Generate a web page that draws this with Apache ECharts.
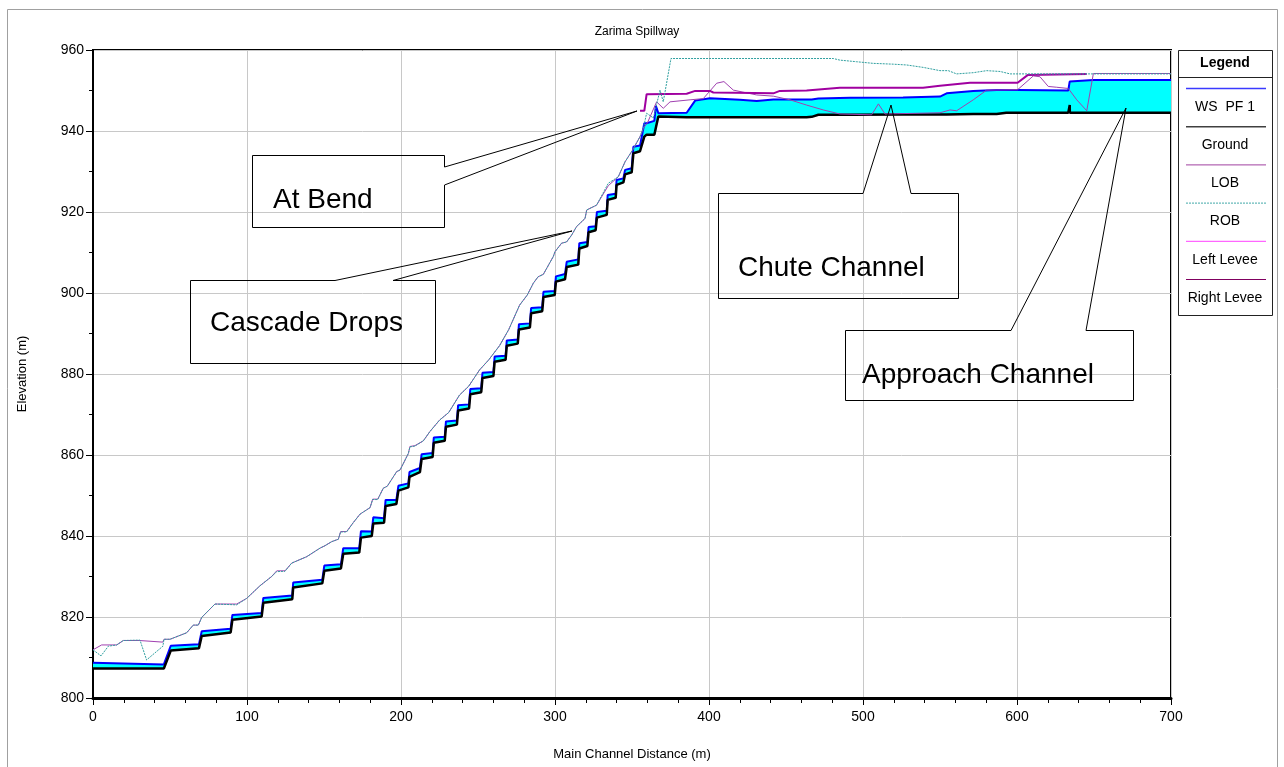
<!DOCTYPE html>
<html>
<head>
<meta charset="utf-8">
<title>Zarima Spillway</title>
<script src="https://cdn.jsdelivr.net/npm/echarts@6/dist/echarts.min.js"></script>
<style>
html, body { margin: 0; padding: 0; background: #fff; }
#chart { width: 1284px; height: 767px; }
</style>
</head>
<body>
<div id="chart"></div>
<script>
// main channel stations (m) with ground and water surface elevations (m)
var stations = [0, 46, 50.5, 68.8, 70.6, 89.4, 90.5, 109.5, 110.6, 129.4, 130, 148.9, 150.2, 161, 162.5, 172.9, 174, 181, 182, 189,
    190, 197, 198.3, 204.8, 205.5, 212.3, 213.4, 220.5, 221.3, 228.4, 229.2, 236.3, 237.1, 244.2, 245, 252.1, 252.9, 260, 260.8, 267.9,
    268.7, 275.8, 276.6, 283.7, 284.5, 291.7, 292.5, 299.8, 300.6, 306.5, 307.6, 315.1, 315.8, 321, 321.8, 326.4, 327.2, 333.6, 334.2, 339.4,
    340, 344.4, 345.5, 349.8, 350.9, 355.2, 358, 359.5, 364.5, 365.5, 367.1, 385.5, 391, 400.6, 420, 431, 441.8, 463.4, 466.7, 471,
    491.6, 526, 550, 554.3, 571.6, 586.8, 593, 600.4, 633.3, 634.2, 634.25, 634.3, 649.6, 700];
var groundElev = [807.3, 807.3, 811.7, 812.3, 815.3, 816.2, 819.3, 820.1, 823.5, 824.4, 827.3, 828.3, 831.4, 832, 835.6, 835.9, 839.6, 840, 843.1, 843.3,
    847.4, 847.9, 851.2, 852, 854.6, 855.8, 859, 859.5, 863, 863.5, 867, 867.5, 871, 871.5, 875, 875.5, 879, 879.5, 883, 883.5,
    887, 887.5, 891, 891.5, 895, 895.5, 899, 899.5, 902.8, 903.4, 906.4, 907, 911, 911.6, 915, 915.5, 918.6, 919.3, 923, 923.5,
    926.7, 927.3, 929.3, 929.8, 934.5, 935, 938.6, 939.1, 939.1, 939.3, 943.6, 943.4, 943.4, 943.4, 943.4, 943.4, 943.4, 943.4, 943.5, 944,
    944, 944.1, 944.1, 944.1, 944.2, 944.2, 944.5, 944.5, 944.5, 944.5, 946.4, 944.5, 944.5, 944.5];
var wsElev = [808.7, 808.3, 812.9, 813.3, 816.5, 817.1, 820.5, 821.0, 824.7, 825.3, 828.5, 829.2, 832.7, 833.0, 837.0, 837.0, 841.2, 841.1, 844.6, 844.4,
    848.9, 848.9, 852.4, 853.0, 855.8, 856.8, 860.2, 860.5, 864.3, 864.5, 868.3, 868.5, 872.3, 872.5, 876.3, 876.5, 880.3, 880.5, 884.3, 884.5,
    888.3, 888.5, 892.3, 892.5, 896.3, 896.5, 900.3, 900.5, 904.1, 904.7, 907.7, 908.3, 912.3, 912.6, 916.3, 916.5, 920.0, 920.3, 924.2, 924.5,
    927.9, 928.3, 930.4, 930.8, 936.1, 936.4, 941.9, 941.9, 942.5, 946.2, 944.4, 944.5, 947.5, 948.1, 947.7, 947.4, 947.8, 947.8, 947.8, 948.0,
    948.2, 948.3, 948.5, 949.3, 949.9, 950.1, 950.1, 950.1, 950.0, 952.2, 952.2, 952.2, 952.6, 952.6];

// bank stations and levees [distance, elevation]
var lobLine = [[0, 811.9], [5.6, 813.1], [15.4, 813.1], [19.7, 814.2], [30, 814.2], [45.3, 813.8], [46.1, 814.5], [50, 814.5], [60.8, 816.1], [65.1, 818],
    [68.4, 818], [70.6, 819.9], [79.2, 823.2], [93.3, 823.2], [99.8, 824.6], [108.4, 827.7], [116, 830], [119.3, 831.4], [124.7, 831.4], [129, 833.3],
    [138.8, 834.9], [147.4, 837], [150.6, 837.6], [155, 838.6], [159.3, 839.2], [160.8, 841.1], [164.7, 841.1], [169, 843.3], [173.4, 845.4], [179.9, 847],
    [181.6, 849.1], [184.9, 849.1], [188.5, 851.8], [191.1, 852.3], [197.2, 855.9], [199.4, 856.3], [204.8, 860.4], [205.8, 862.1], [209, 862.3], [214.5, 863.5],
    [218.8, 865.8], [225, 868.6], [231, 870.5], [238, 874.8], [244, 877], [251, 881], [257, 883.5], [264, 887], [270, 891], [277, 897],
    [282, 899.5], [285.9, 902.4], [289, 904], [292.4, 904.6], [298.9, 909], [300, 910.2], [304.3, 912.3], [307.5, 912.6], [310.8, 914.3], [314, 916.4],
    [316.2, 917.2], [319.5, 918.4], [320.6, 920.5], [327, 921.7], [334.6, 926.5], [341.1, 928.7], [345.5, 932.4], [350.4, 935.3], [355.2, 938.6], [357.4, 940.7],
    [360, 942], [366, 947.2], [370.3, 945.6], [374.7, 947.2], [387.7, 947.7], [396.3, 948], [405, 951.8], [409.7, 952.2], [415.8, 950.1], [422, 949.6],
    [431, 948.9], [441.8, 948.6], [452.6, 947.7], [463.4, 946.4], [474.2, 945.2], [485, 944.2], [505.6, 944], [510, 946.7], [514.3, 944.2], [550, 944.5],
    [556.5, 945.2], [560.8, 945], [571.6, 947.7], [580.3, 950.1], [600.4, 950.2], [610.6, 953.6], [614.9, 953.4], [620.3, 951], [625.8, 950.8], [633.3, 950.5],
    [638.8, 947.7], [645.3, 945], [649.6, 954.2], [700, 954.2]];
var robLine = [[0, 811.9], [5.2, 810.4], [10, 812.8], [15.4, 813.1], [19.7, 814.2], [30.5, 814.3], [34.8, 809.4], [45.4, 812.8], [46.1, 814.5], [50, 814.5],
    [60.8, 816.1], [65.1, 818], [68.4, 818], [70.6, 819.9], [79.2, 823.2], [93.3, 823], [99.8, 824.6], [108.4, 827.7], [116, 830], [119.3, 831.2],
    [124.7, 831.3], [129, 833.3], [138.8, 834.9], [147.4, 837], [150.6, 837.6], [155, 838.6], [159.3, 839.2], [160.8, 841], [164.7, 841], [169, 843.3],
    [173.4, 845.4], [179.9, 847], [181.6, 849], [184.9, 849], [188.5, 851.8], [191.1, 852.3], [197.2, 855.9], [199.4, 856.3], [204.8, 860.4], [205.8, 862],
    [209, 862.2], [214.5, 863.5], [218.8, 865.8], [225, 868.6], [231, 870.5], [238, 874.8], [244, 877], [251, 881], [257, 883.5], [264, 887],
    [270, 891], [277, 897], [282, 899.5], [285.9, 902.4], [289, 904], [292.4, 904.6], [298.9, 909], [300, 910.2], [304.3, 912.3], [307.5, 912.6],
    [310.8, 914.3], [314, 916.4], [316.2, 917.2], [319.5, 918.4], [320.6, 920.5], [327, 921.7], [334.6, 927.1], [341.1, 928.7], [345.5, 932.4], [350.4, 935.3],
    [355.2, 938.6], [357.4, 940.7], [359.5, 944.4], [363.9, 943.2], [368.2, 950.1], [370.3, 947.2], [375.3, 957.9], [480.7, 957.9], [485, 957.5], [495.9, 957.1],
    [506.7, 956.7], [519.7, 956.5], [528.4, 956.3], [539.2, 955.7], [550, 954.9], [555.4, 954.9], [560.8, 954.1], [571.6, 954.4], [580.3, 954.9], [589, 954.7],
    [595.5, 954.1], [700, 954.1]];
var leftLevee = [[355.2, 945], [358, 945], [359.5, 949.1], [385.5, 949.2], [391, 949.9], [400.6, 949.9], [402.8, 949.5], [441.8, 949.3], [446, 949.9], [463.4, 950],
    [485, 950.7], [539, 950.7], [550, 951.2], [569.5, 951.9], [600.4, 951.9], [606.9, 953.8], [645.3, 954.1]];

var legendNames = ['WS  PF 1', 'Ground', 'LOB', 'ROB', 'Left Levee', 'Right Levee'];
var legendColors = ['#3a3aff', '#404040', '#a040a0', '#40a8a8', '#ff40ff', '#800060'];

var FONT = 'Liberation Sans, Arial, sans-serif';

var groundData = stations.map(function (d, i) { return [d, groundElev[i]]; });
var wsData = stations.map(function (d, i) { return [d, wsElev[i]]; });

var chart = echarts.init(document.getElementById('chart'));

function waterFill(params, api) {
    var pts = [];
    for (var i = 0; i < stations.length; i++) {
        pts.push(api.coord([stations[i], groundElev[i]]));
    }
    for (var j = stations.length - 1; j >= 0; j--) {
        pts.push(api.coord([stations[j], wsElev[j]]));
    }
    return { type: 'polygon', shape: { points: pts }, style: { fill: '#00ffff', stroke: null } };
}

// legend box drawn as in the HEC-RAS plot
var legendGraphics = [
    { type: 'rect', shape: { x: 1178.5, y: 50.5, width: 94, height: 265 }, style: { fill: '#fff', stroke: '#222', lineWidth: 1 } },
    { type: 'line', shape: { x1: 1178, y1: 77.5, x2: 1272, y2: 77.5 }, style: { stroke: '#222', lineWidth: 1 } },
    { type: 'text', style: { text: 'Legend', x: 1225, y: 63, font: 'bold 14px ' + FONT, fill: '#000', align: 'center', verticalAlign: 'middle' } }
];
legendNames.forEach(function (name, i) {
    var ly = 88.5 + i * 38.2;
    legendGraphics.push({ type: 'line', shape: { x1: 1186, y1: ly, x2: 1266, y2: ly },
        style: { stroke: legendColors[i], lineWidth: i < 2 ? 1.5 : 1, lineDash: i === 3 ? [2, 1] : null } });
    legendGraphics.push({ type: 'text', style: { text: name, x: 1225, y: ly + 18.5, font: '14px ' + FONT, fill: '#000', align: 'center', verticalAlign: 'middle' } });
});

function callout(points) {
    return { type: 'polygon', shape: { points: points }, style: { fill: 'none', stroke: '#000', lineWidth: 1 }, z: 50 };
}
function boxText(text, x, y) {
    return { type: 'text', style: { text: text, x: x, y: y, font: '28px ' + FONT, fill: '#000', align: 'left', verticalAlign: 'middle' }, z: 51 };
}

var annotations = [
    callout([[252.5, 155.5], [444.5, 155.5], [444.5, 167], [637, 111], [444.5, 185], [444.5, 227.5], [252.5, 227.5]]),
    boxText('At Bend', 273, 200),
    callout([[190.5, 280.5], [335, 280.5], [572, 231], [393, 280.5], [435.5, 280.5], [435.5, 363.5], [190.5, 363.5]]),
    boxText('Cascade Drops', 210, 323),
    callout([[718.5, 193.5], [863, 193.5], [891, 105], [911, 193.5], [958.5, 193.5], [958.5, 298.5], [718.5, 298.5]]),
    boxText('Chute Channel', 738, 268),
    callout([[845.5, 330.5], [1011, 330.5], [1126, 108], [1086, 330.5], [1133.5, 330.5], [1133.5, 400.5], [845.5, 400.5]]),
    boxText('Approach Channel', 862, 375)
];

var option = {
    animation: false,
    backgroundColor: '#fff',
    title: {
        text: 'Zarima Spillway',
        left: 632,
        top: 21,
        textAlign: 'center',
        textStyle: { fontFamily: FONT, fontSize: 12, fontWeight: 'normal', color: '#000' }
    },
    grid: { left: 93, right: 113, top: 50, bottom: 69, show: true, borderColor: '#000', borderWidth: 2 },
    xAxis: {
        type: 'value',
        min: 0, max: 700, interval: 100,
        name: 'Main Channel Distance (m)',
        nameLocation: 'middle',
        nameGap: 50,
        nameTextStyle: { fontFamily: FONT, fontSize: 13, color: '#000' },
        axisLine: { lineStyle: { color: '#000', width: 3 } },
        axisTick: { length: 7, lineStyle: { color: '#000' } },
        minorTick: { show: true, splitNumber: 5, length: 5, lineStyle: { color: '#000' } },
        axisLabel: { fontFamily: FONT, fontSize: 14, color: '#000', margin: 12 },
        splitLine: { show: true, lineStyle: { color: '#c8c8c8', width: 1 } }
    },
    yAxis: {
        type: 'value',
        min: 800, max: 960, interval: 20,
        name: 'Elevation (m)',
        nameLocation: 'middle',
        nameGap: 64,
        nameTextStyle: { fontFamily: FONT, fontSize: 13, color: '#000' },
        axisLine: { show: true, lineStyle: { color: '#000', width: 2 } },
        axisTick: { show: true, length: 7, lineStyle: { color: '#000' } },
        minorTick: { show: true, splitNumber: 2, length: 4, lineStyle: { color: '#000' } },
        axisLabel: { fontFamily: FONT, fontSize: 14, color: '#000', margin: 9 },
        splitLine: { show: true, lineStyle: { color: '#c8c8c8', width: 1 } }
    },
    series: [
        { name: 'WS fill', type: 'custom', silent: true, z: 1, data: [[0, 800]], renderItem: waterFill },
        { name: 'WS  PF 1', type: 'line', data: wsData, symbol: 'none', z: 3, lineStyle: { color: '#0000ff', width: 2 } },
        { name: 'Ground', type: 'line', data: groundData, symbol: 'none', z: 4, lineStyle: { color: '#000', width: 2.5 } },
        { name: 'LOB', type: 'line', data: lobLine, symbol: 'none', z: 5, lineStyle: { color: '#a040b0', width: 1 } },
        { name: 'ROB', type: 'line', data: robLine, symbol: 'none', z: 6, lineStyle: { color: '#30a0a0', width: 1, type: [2, 1] } },
        { name: 'Left Levee', type: 'line', data: leftLevee, symbol: 'none', z: 5, lineStyle: { color: '#a000a0', width: 2 } }
    ],
    graphic: [
        { type: 'rect', shape: { x: 7.5, y: 9.5, width: 1270, height: 770 }, style: { fill: 'none', stroke: '#a0a0a0', lineWidth: 1 }, z: -10 }
    ].concat(legendGraphics).concat(annotations)
};

chart.setOption(option);
</script>
</body>
</html>
